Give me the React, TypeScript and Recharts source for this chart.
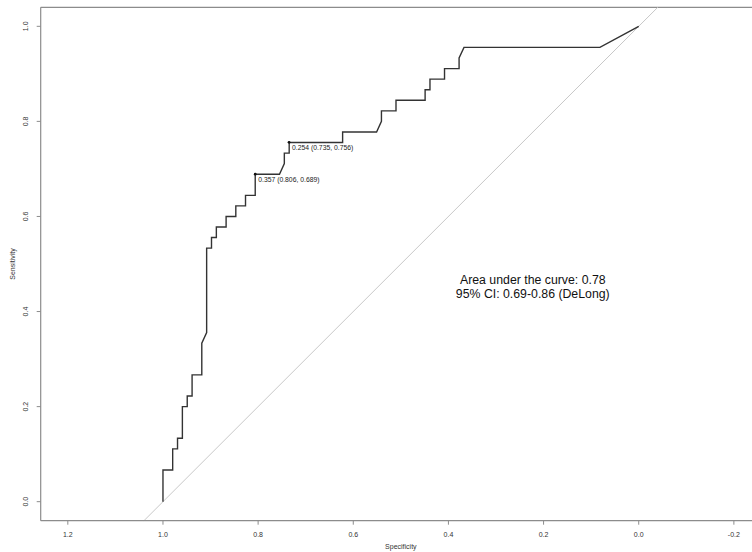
import React from "react";
import { ComposedChart, Line, Scatter, XAxis, YAxis, ReferenceLine } from "recharts";

// ROC curve points (specificity, sensitivity), in drawing order
const specificity = [
  1.0, 1.0, 0.9796, 0.9796, 0.9694, 0.9694, 0.9592, 0.9592, 0.949, 0.949,
  0.9388, 0.9388, 0.9184, 0.9184, 0.9082, 0.9082, 0.898, 0.898, 0.8878, 0.8878,
  0.8673, 0.8673, 0.8469, 0.8469, 0.8265, 0.8265, 0.8061, 0.8061, 0.7551, 0.7449,
  0.7449, 0.7347, 0.7347, 0.6224, 0.6224, 0.551, 0.5408, 0.5408, 0.5102, 0.5102,
  0.449, 0.449, 0.4388, 0.4388, 0.4082, 0.4082, 0.3776, 0.3776, 0.3673, 0.0816, 0.0,
];
const sensitivity = [
  0.0, 0.0667, 0.0667, 0.1111, 0.1111, 0.1333, 0.1333, 0.2, 0.2, 0.2222,
  0.2222, 0.2667, 0.2667, 0.3333, 0.3556, 0.5333, 0.5333, 0.5556, 0.5556, 0.5778,
  0.5778, 0.6, 0.6, 0.6222, 0.6222, 0.6444, 0.6444, 0.6889, 0.6889, 0.7111,
  0.7333, 0.7333, 0.7556, 0.7556, 0.7778, 0.7778, 0.8, 0.8222, 0.8222, 0.8444,
  0.8444, 0.8667, 0.8667, 0.8889, 0.8889, 0.9111, 0.9111, 0.9333, 0.9556, 0.9556, 1.0,
];

// printed thresholds
const thresholdSpec = [0.806, 0.735];
const thresholdSens = [0.689, 0.756];
const thresholdLabels = ["0.357 (0.806, 0.689)", "0.254 (0.735, 0.756)"];

// AUC annotation
const aucLines = ["Area under the curve: 0.78", "95% CI: 0.69-0.86 (DeLong)"];
const aucPosSpec = [0.2227];
const aucPosSens = [0.453];

const xTicks = [1.2, 1.0, 0.8, 0.6, 0.4, 0.2, 0.0, -0.2];
const yTicks = [0.0, 0.2, 0.4, 0.6, 0.8, 1.0];
const xDomain = [-0.257, 1.257];
const yDomain = [-0.04, 1.04];

const curve = specificity.map((s, i) => ({ spec: s, sens: sensitivity[i] }));
const thresholds = thresholdSpec.map((s, i) => ({ spec: s, sens: thresholdSens[i], label: thresholdLabels[i] }));
const aucData = aucPosSpec.map((s, i) => ({ spec: s, sens: aucPosSens[i] }));

const FONT = "'Liberation Sans', Arial, Helvetica, sans-serif";
const FRAME = "#8c8c8c";
const TICK_COLOR = "#333";

const fmt = (v: number) => (Math.abs(v) < 1e-9 ? "0.0" : v.toFixed(1));

const XTick = (props: any) => {
  const { x, y, payload } = props;
  return (
    <text x={x} y={y + 10.1} textAnchor="middle" fontSize={7} fill={TICK_COLOR} fontFamily={FONT}>
      {fmt(payload.value)}
    </text>
  );
};

const YTick = (props: any) => {
  const { x, y, payload } = props;
  const tx = x - 6.2;
  return (
    <text
      x={tx}
      y={y}
      transform={`rotate(-90, ${tx}, ${y})`}
      textAnchor="middle"
      fontSize={7}
      fill={TICK_COLOR}
      fontFamily={FONT}
    >
      {fmt(payload.value)}
    </text>
  );
};

const ThresholdShape = (props: any) => {
  const { cx, cy, payload } = props;
  return (
    <g>
      <circle cx={cx} cy={cy} r={1.4} fill="#111" />
      <text x={cx + 3} y={cy + 7.4} fontSize={6.8} fill="#222" fontFamily={FONT}>
        {payload.label}
      </text>
    </g>
  );
};

const AucShape = (props: any) => {
  const { cx, cy } = props;
  return (
    <g>
      <text x={cx} y={cy - 2.7} textAnchor="middle" fontSize={12.3} fill="#111" fontFamily={FONT}>
        {aucLines[0]}
      </text>
      <text x={cx} y={cy + 11.3} textAnchor="middle" fontSize={12.3} fill="#111" fontFamily={FONT}>
        {aucLines[1]}
      </text>
    </g>
  );
};

export default function App() {
  return (
    <div style={{ position: "absolute", left: 0, top: 0, width: 752, height: 552, overflow: "hidden", background: "#fff" }}>
      <ComposedChart
        width={770}
        height={552}
        margin={{ top: 7.3, right: 9, bottom: 0, left: 0 }}
        style={{ fontFamily: FONT }}
      >
        <XAxis
          type="number"
          dataKey="spec"
          domain={xDomain}
          reversed
          ticks={xTicks}
          interval={0}
          allowDataOverflow
          height={31.3}
          tickSize={4}
          tickMargin={2}
          axisLine={{ stroke: FRAME, strokeWidth: 1.2 }}
          tickLine={{ stroke: FRAME }}
          tick={<XTick />}
          label={{
            content: (p: any) => {
              const vb = p.viewBox || {};
              return (
                <text x={vb.x + vb.width / 2} y={vb.y + 27.8} textAnchor="middle" fontSize={7} fill="#333" fontFamily={FONT}>
                  Specificity
                </text>
              );
            },
          }}
        />
        <YAxis
          type="number"
          dataKey="sens"
          domain={yDomain}
          ticks={yTicks}
          interval={0}
          allowDataOverflow
          width={40.7}
          tickSize={4}
          tickMargin={2}
          axisLine={{ stroke: FRAME, strokeWidth: 1.2 }}
          tickLine={{ stroke: FRAME }}
          tick={<YTick />}
          label={{
            content: (p: any) => {
              const vb = p.viewBox || {};
              const cy = vb.y + vb.height / 2;
              return (
                <text x={14.5} y={cy} transform={`rotate(-90, 14.5, ${cy})`} textAnchor="middle" fontSize={7} fill="#333" fontFamily={FONT}>
                  Sensitivity
                </text>
              );
            },
          }}
        />
        <ReferenceLine y={yDomain[1]} stroke={FRAME} strokeWidth={1.2} ifOverflow="visible" />
        <ReferenceLine
          segment={[{ x: 1.04, y: -0.04 }, { x: -0.04, y: 1.04 }]}
          stroke="#c8c8c8"
          strokeWidth={1}
          ifOverflow="visible"
        />
        <Line
          data={curve}
          dataKey="sens"
          type="linear"
          stroke="#333"
          strokeWidth={1.4}
          dot={false}
          activeDot={false}
          isAnimationActive={false}
        />
        <Scatter data={thresholds} dataKey="sens" shape={<ThresholdShape />} isAnimationActive={false} />
        <Scatter data={aucData} dataKey="sens" shape={<AucShape />} isAnimationActive={false} />
      </ComposedChart>
    </div>
  );
}
